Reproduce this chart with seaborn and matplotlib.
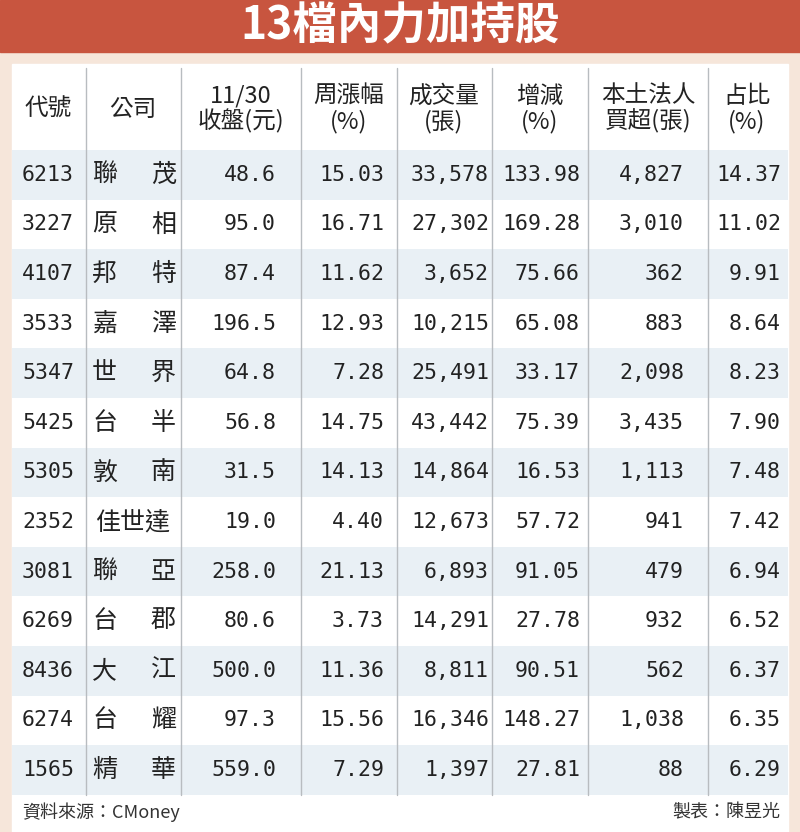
import matplotlib
matplotlib.use('Agg')
import matplotlib.pyplot as plt
import seaborn as sns

sns.set_style('white')
plt.rcParams['font.family'] = ['Noto Sans CJK TC', 'DejaVu Sans']

title = '13檔內力加持股'
headers = ['代號', '公司', '11/30\n收盤(元)', '周漲幅\n(%)', '成交量\n(張)', '增減\n(%)', '本土法人\n買超(張)', '占比\n(%)']
codes = ['6213', '3227', '4107', '3533', '5347', '5425', '5305', '2352', '3081', '6269', '8436', '6274', '1565']
names = ['聯茂', '原相', '邦特', '嘉澤', '世界', '台半', '敦南', '佳世達', '聯亞', '台郡', '大江', '台耀', '精華']
close = ['48.6', '95.0', '87.4', '196.5', '64.8', '56.8', '31.5', '19.0', '258.0', '80.6', '500.0', '97.3', '559.0']
week_pct = ['15.03', '16.71', '11.62', '12.93', '7.28', '14.75', '14.13', '4.40', '21.13', '3.73', '11.36', '15.56', '7.29']
volume = ['33,578', '27,302', '3,652', '10,215', '25,491', '43,442', '14,864', '12,673', '6,893', '14,291', '8,811', '16,346', '1,397']
change = ['133.98', '169.28', '75.66', '65.08', '33.17', '75.39', '16.53', '57.72', '91.05', '27.78', '90.51', '148.27', '27.81']
buy = ['4,827', '3,010', '362', '883', '2,098', '3,435', '1,113', '941', '479', '932', '562', '1,038', '88']
share = ['14.37', '11.02', '9.91', '8.64', '8.23', '7.90', '7.48', '7.42', '6.94', '6.52', '6.37', '6.35', '6.29']

fig = plt.figure(figsize=(8, 8.32), dpi=100)
fig.patch.set_facecolor('#f6e6da')
ax = fig.add_axes([0, 0, 1, 1])
ax.set_xlim(0, 800)
ax.set_ylim(832, 0)
ax.axis('off')

# title bar and white panel
ax.add_patch(plt.Rectangle((0, 0), 800, 52, color='#c8553f'))
ax.text(400, 26, title, color='white', fontsize=32, fontweight='bold', ha='center', va='center')
ax.add_patch(plt.Rectangle((12, 64), 776, 768, color='white'))

top, head_h, row_h = 68, 82, 49.6
y0 = top + head_h
for i in range(len(codes)):
    if i % 2 == 0:
        ax.add_patch(plt.Rectangle((12, y0 + i * row_h), 776, row_h, color='#e9f0f5', lw=0))

y_end = y0 + len(codes) * row_h
for x in [86, 181, 301, 397, 492, 588, 708]:
    ax.plot([x, x], [top, y_end], color='#b8bcc0', lw=1)

head_x = [48, 133, 241, 349, 444, 540, 648, 747]
for x, h in zip(head_x, headers):
    ax.text(x, top + head_h / 2, h, fontsize=17, ha='center', va='center', linespacing=1.1, color='#222222')

mono = ['DejaVu Sans Mono']
num_cols = [(276, close), (384, week_pct), (489, volume), (580, change), (684, buy), (781, share)]
fs = 15.5
for i in range(len(codes)):
    yc = y0 + (i + 0.5) * row_h
    ax.text(48, yc, codes[i], fontsize=fs, family=mono, ha='center', va='center', color='#222222')
    n = names[i]
    if len(n) == 2:
        ax.text(92, yc, n[0], fontsize=18, ha='left', va='center', color='#222222')
        ax.text(176, yc, n[1], fontsize=18, ha='right', va='center', color='#222222')
    else:
        ax.text(133, yc, n, fontsize=18, ha='center', va='center', color='#222222')
    for x, col in num_cols:
        ax.text(x, yc, col[i], fontsize=fs, family=mono, ha='right', va='center', color='#222222')

ax.text(22, 812, '資料來源：CMoney', fontsize=13, ha='left', va='center', color='#333333')
ax.text(780, 812, '製表：陳昱光', fontsize=13, ha='right', va='center', color='#333333')

fig.savefig('out.png', dpi=100, facecolor=fig.get_facecolor())
